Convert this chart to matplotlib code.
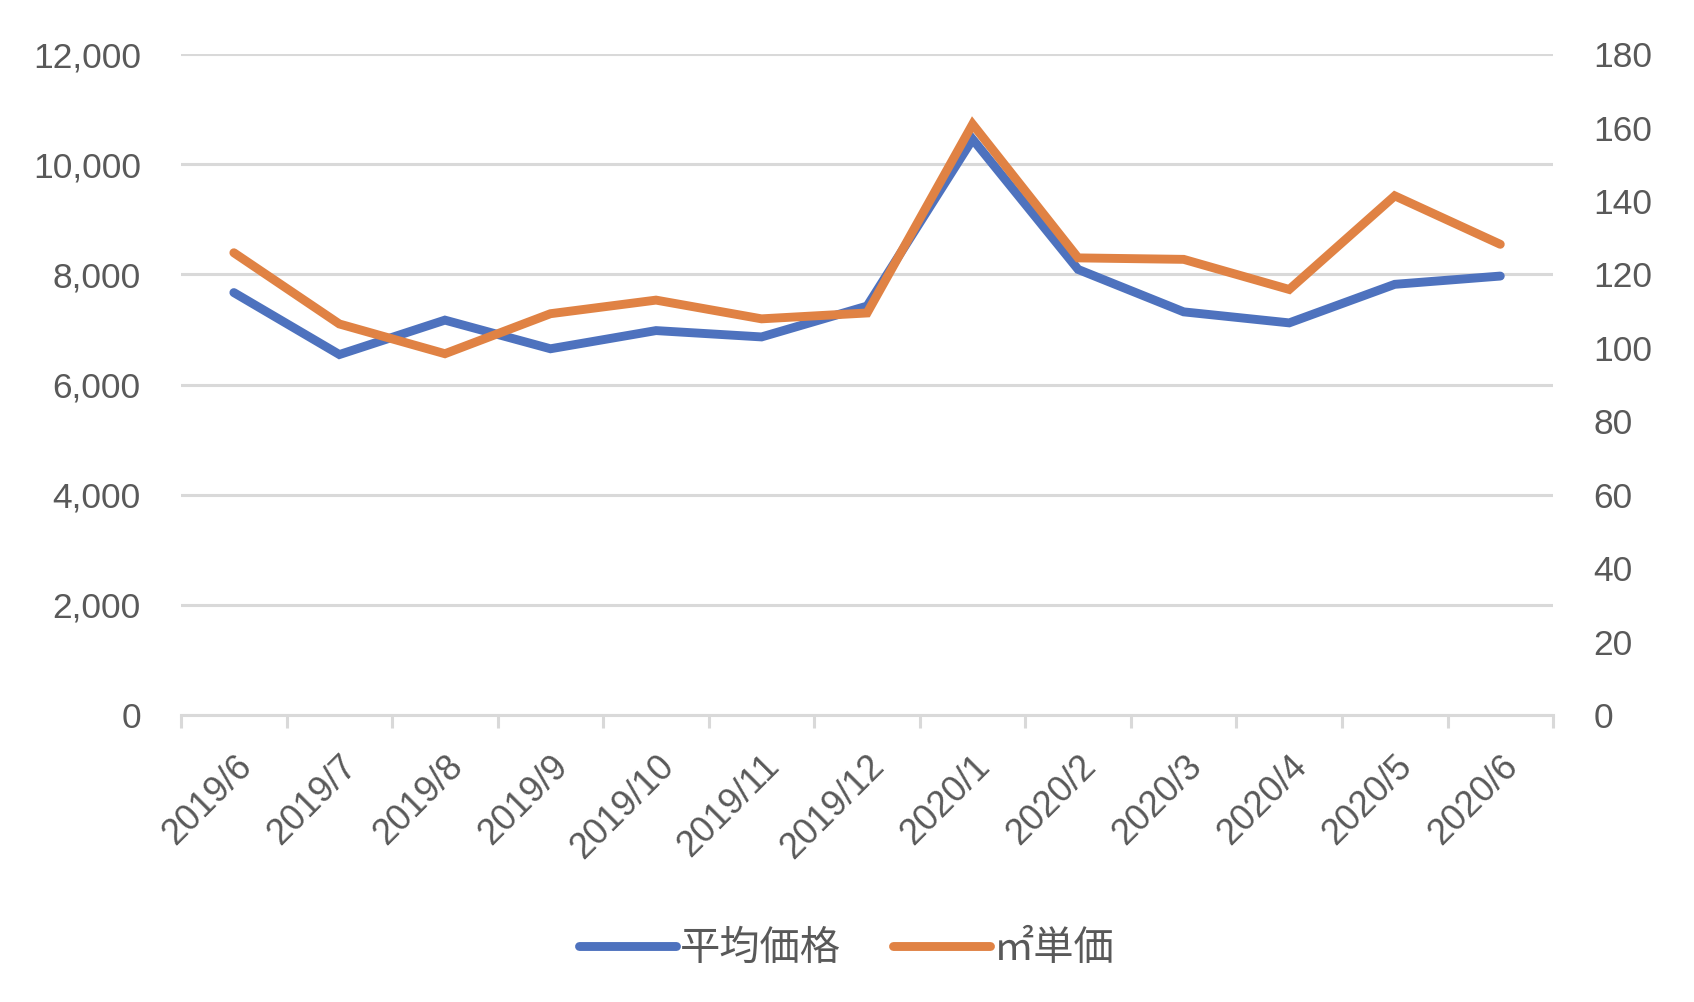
import matplotlib
matplotlib.use("Agg")
import matplotlib.pyplot as plt
from matplotlib.ticker import FuncFormatter, FixedLocator

months = ["2019/6", "2019/7", "2019/8", "2019/9", "2019/10", "2019/11", "2019/12",
          "2020/1", "2020/2", "2020/3", "2020/4", "2020/5", "2020/6"]
avg_price = [7670, 6545, 7170, 6650, 6980, 6865, 7425,
             10455, 8090, 7320, 7120, 7820, 7970]
unit_price = [125.9, 106.5, 98.4, 109.3, 113.0, 107.9, 109.5,
              160.9, 124.5, 124.1, 115.9, 141.4, 128.2]
left_ticks = [0, 2000, 4000, 6000, 8000, 10000, 12000]
right_ticks = list(range(0, 181, 20))

blue = "#4E72BE"
orange = "#E08244"
grey_text = "#595959"
grid_grey = "#D9D9D9"

plt.rcParams["font.family"] = ["Liberation Sans", "DejaVu Sans"]

fig = plt.figure(figsize=(16.94, 10.02), dpi=100)
ax = fig.add_axes([0.1069, 0.2864, 0.8099, 0.6596])
ax2 = ax.twinx()

x = list(range(len(months)))
l1, = ax.plot(x, avg_price, color=blue, lw=6.4, solid_capstyle="round",
              solid_joinstyle="miter", label="平均価格", zorder=3)
l2, = ax2.plot(x, unit_price, color=orange, lw=6.4, solid_capstyle="round",
               solid_joinstyle="miter", label="㎡単価", zorder=3)

ax.set_xlim(-0.5, len(months) - 0.5)
ax.set_ylim(0, 12000)
ax2.set_ylim(0, 180)
ax.set_yticks(left_ticks)
ax2.set_yticks(right_ticks)
ax.yaxis.set_major_formatter(FuncFormatter(lambda v, p: f"{int(v):,}"))

ax.grid(axis="y", color=grid_grey, lw=2.2)
ax.set_axisbelow(True)

for a in (ax, ax2):
    for s in ("top", "left", "right", "bottom"):
        a.spines[s].set_visible(False)
ax.spines["bottom"].set_visible(True)
ax.spines["bottom"].set_color(grid_grey)
ax.spines["bottom"].set_linewidth(2.2)

ax.set_xticks(x)
ax.set_xticklabels(months, rotation=45, ha="right", rotation_mode="anchor")
ax.xaxis.set_minor_locator(FixedLocator([i - 0.5 for i in range(len(months) + 1)]))
ax.tick_params(axis="x", which="major", length=0, pad=24, labelsize=26, labelcolor=grey_text)
ax.tick_params(axis="x", which="minor", length=9, width=2.2, color=grid_grey)
ax.tick_params(axis="y", length=0, pad=29, labelsize=25.5, labelcolor=grey_text)
ax2.tick_params(axis="y", length=0, pad=29, labelsize=25.5, labelcolor=grey_text)

fig.legend(handles=[l1, l2], loc="center", bbox_to_anchor=(0.5, 0.053), ncol=2,
           frameon=False, handlelength=2.4, handletextpad=0.1, columnspacing=1.3,
           prop={"family": ["Noto Sans CJK JP", "DejaVu Sans"], "size": 29},
           labelcolor=grey_text)

fig.savefig("out.png", dpi=100)
